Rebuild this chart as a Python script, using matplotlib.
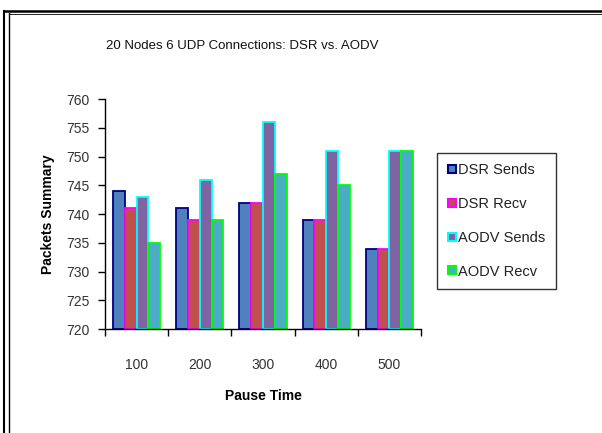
import numpy as np
import matplotlib.pyplot as plt
from matplotlib.lines import Line2D

plt.rcParams['font.family'] = ['Liberation Sans', 'DejaVu Sans']

pause_times = ['100', '200', '300', '400', '500']
series = ['DSR Sends', 'DSR Recv', 'AODV Sends', 'AODV Recv']
dsr_sends = [744, 741, 742, 739, 734]
dsr_recv = [741, 739, 742, 739, 734]
aodv_sends = [743, 746, 756, 751, 751]
aodv_recv = [735, 739, 747, 745, 751]

face_colors = ['#4F81BD', '#C0504D', '#8064A2', '#4BACC6']
edge_colors = ['#000080', '#FF00FF', '#00FFFF', '#00FF00']

fig = plt.figure(figsize=(6.02, 4.33), dpi=100)
ax = fig.add_axes([0.1744, 0.240, 0.525, 0.531])

x = np.arange(len(pause_times))
w = 0.186
base = 720
for i, vals in enumerate([dsr_sends, dsr_recv, aodv_sends, aodv_recv]):
    offs = (i - 1.5) * w
    ax.bar(x + offs, np.array(vals) - base, w, bottom=base,
           color=face_colors[i], edgecolor=edge_colors[i], linewidth=1.3,
           label=series[i], zorder=2)

ax.set_xlim(-0.5, len(pause_times) - 0.5)
ax.set_ylim(720, 760)
ax.set_yticks(np.arange(720, 761, 5))
ax.set_xticks(x)
ax.set_xticklabels(pause_times)
ax.set_xticks(np.arange(-0.5, len(pause_times), 1), minor=True)
ax.tick_params(axis='x', which='major', length=0, pad=21, labelsize=10, colors='#333333')
ax.tick_params(axis='x', which='minor', length=5, direction='out', width=1)
ax.tick_params(axis='y', length=5, direction='out', width=1, labelsize=10, colors='#333333', pad=6)
ax.tick_params(axis='both', which='both', color='black')
for s in ['top', 'right']:
    ax.spines[s].set_visible(False)
for s in ['left', 'bottom']:
    ax.spines[s].set_color('black')
    ax.spines[s].set_linewidth(1)

ax.set_xlabel('Pause Time', fontsize=10, fontweight='bold', labelpad=12)
ax.set_ylabel('Packets Summary', fontsize=10, fontweight='bold', labelpad=8)
fig.text(0.402, 1 - 46 / 433, '20 Nodes 6 UDP Connections: DSR vs. AODV',
         ha='center', va='center', fontsize=9.5, color='#111111')

handles = [Line2D([], [], marker='s', linestyle='none', markersize=6,
                  markerfacecolor=face_colors[i], markeredgecolor=edge_colors[i],
                  markeredgewidth=1.5) for i in range(4)]
leg = fig.legend(handles, series, loc='center left',
                 bbox_to_anchor=(0.726, 1 - 221 / 433), fontsize=10.5,
                 frameon=True, fancybox=False, edgecolor='black',
                 handlelength=0.6, handletextpad=0.1, labelspacing=1.35,
                 borderpad=0.75, borderaxespad=0)
leg.get_frame().set_linewidth(1)
for t in leg.get_texts():
    t.set_color('#222222')

# outer chart frame (screenshot border)
fig.add_artist(Line2D([4 / 602, 4 / 602], [0, 1 - 11 / 433], color='black', lw=1.5))
fig.add_artist(Line2D([9 / 602, 9 / 602], [0, 1 - 13 / 433], color='black', lw=1.0))
fig.add_artist(Line2D([4 / 602, 1], [1 - 11 / 433, 1 - 11 / 433], color='black', lw=1.8))
fig.add_artist(Line2D([9 / 602, 1], [1 - 13.5 / 433, 1 - 13.5 / 433], color='black', lw=0.6))

fig.savefig('out.png', dpi=100)
